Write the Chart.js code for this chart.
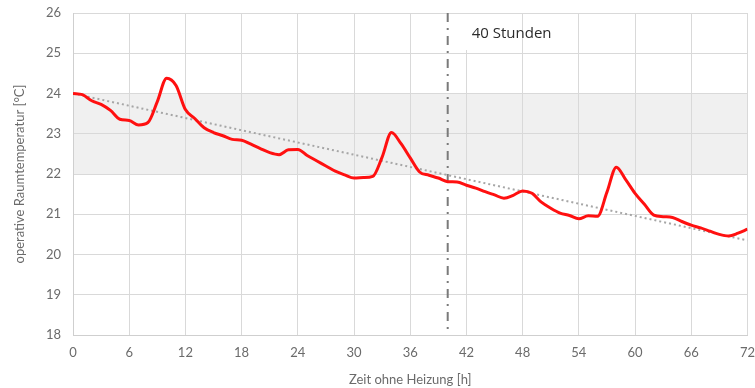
<!DOCTYPE html>
<html lang="de">
<head>
<meta charset="utf-8">
<title>Raumtemperatur ohne Heizung</title>
<script src="https://cdn.jsdelivr.net/npm/chart.js@4/dist/chart.umd.min.js"></script>
<style>
  html, body { margin: 0; padding: 0; background: #ffffff; overflow: hidden; }
  #wrap { width: 755px; height: 388px; position: relative; }
  #chart { display: block; }
</style>
</head>
<body>
<div id="wrap"><canvas id="chart"></canvas></div>
<script>
// Stunden seit Abschalten der Heizung
const hours = [
  0, 1, 2, 3, 4, 5, 6, 7, 8, 9, 10, 11, 12, 13, 14, 15, 16, 17, 18, 19, 20, 21, 22, 23, 24,
  25, 26, 27, 28, 29, 30, 31, 32, 33, 34, 35, 36, 37, 38, 39, 40, 41, 42, 43, 44, 45, 46, 47, 48,
  49, 50, 51, 52, 53, 54, 55, 56, 57, 58, 59, 60, 61, 62, 63, 64, 65, 66, 67, 68, 69, 70, 71, 72
];

// operative Raumtemperatur [°C]
const operativeTemp = [
  24.00, 23.97, 23.82, 23.73, 23.58, 23.36, 23.33, 23.22, 23.28, 23.80, 24.38, 24.20, 23.60,
  23.38, 23.15, 23.03, 22.95, 22.86, 22.84, 22.74, 22.63, 22.53, 22.48, 22.60, 22.61,
  22.46, 22.33, 22.20, 22.07, 21.98, 21.90, 21.91, 21.94, 22.42, 23.03, 22.76, 22.40,
  22.05, 21.97, 21.90, 21.81, 21.80, 21.72, 21.65, 21.56, 21.48, 21.40, 21.47, 21.58,
  21.52, 21.30, 21.15, 21.03, 20.97, 20.89, 20.96, 20.95, 21.55, 22.17, 21.86, 21.52,
  21.25, 20.98, 20.94, 20.92, 20.82, 20.73, 20.66, 20.58, 20.50, 20.46, 20.53, 20.63
];

// linearer Trend (Anfang / Ende)
const trendHours = [0, 72];
const trendTemp = [24.0, 20.35];

// Behaglichkeitsbereich [°C]
const comfortBand = [22, 24];

// Markierung nach 40 Stunden
const markerHour = 40;
const markerLabel = '40 Stunden';

// Achsen
const xTicks = [0, 6, 12, 18, 24, 30, 36, 42, 48, 54, 60, 66, 72];
const yTicks = [18, 19, 20, 21, 22, 23, 24, 25, 26];

const toPoints = (xs, ys) => xs.map((x, i) => ({ x, y: ys[i] }));

// grau hinterlegter Bereich unter dem Raster
const bandPlugin = {
  id: 'comfortBand',
  beforeDraw(chart) {
    const { ctx, chartArea, scales } = chart;
    const yTop = scales.y.getPixelForValue(comfortBand[1]);
    const yBot = scales.y.getPixelForValue(comfortBand[0]);
    ctx.save();
    ctx.fillStyle = '#f0f0f0';
    ctx.fillRect(chartArea.left, yTop, chartArea.right - chartArea.left, yBot - yTop);
    ctx.restore();
  }
};

// Strich-Punkt-Linie mit Beschriftung
const markerPlugin = {
  id: 'marker',
  beforeDatasetsDraw(chart) {
    const { ctx, chartArea, scales } = chart;
    const x = scales.x.getPixelForValue(markerHour);
    ctx.save();
    ctx.fillStyle = '#ffffff';
    ctx.fillRect(x + 10, chartArea.top + 1, 62, 36);
    ctx.strokeStyle = '#7a7a7a';
    ctx.lineWidth = 2;
    ctx.setLineDash([9, 6, 2, 6]);
    ctx.beginPath();
    ctx.moveTo(x, chartArea.top);
    ctx.lineTo(x, chartArea.bottom);
    ctx.stroke();
    ctx.setLineDash([]);
    ctx.fillStyle = '#2b2b2b';
    ctx.font = '15px "Open Sans", sans-serif';
    ctx.textBaseline = 'middle';
    ctx.textAlign = 'left';
    ctx.fillText(markerLabel, x + 24, chartArea.top + 21);
    ctx.restore();
  }
};

const tickFont = { family: 'Lato, "Liberation Sans", sans-serif', size: 13 };
const gridColor = '#d9d9d9';
const hidden = 'rgba(0,0,0,0)';

new Chart(document.getElementById('chart'), {
  type: 'line',
  data: {
    datasets: [
      {
        label: 'operative Raumtemperatur',
        data: toPoints(hours, operativeTemp),
        borderColor: '#ff1010',
        borderWidth: 3,
        pointRadius: 0,
        cubicInterpolationMode: 'monotone',
        fill: false
      },
      {
        label: 'Trend',
        data: toPoints(trendHours, trendTemp),
        borderColor: '#a6a6a6',
        borderWidth: 2,
        borderDash: [2, 3],
        pointRadius: 0,
        tension: 0,
        fill: false
      }
    ]
  },
  options: {
    responsive: true,
    maintainAspectRatio: false,
    animation: false,
    events: [],
    layout: { padding: { top: 13, right: 6, bottom: 0, left: 0 } },
    plugins: {
      legend: { display: false },
      tooltip: { enabled: false }
    },
    scales: {
      x: {
        type: 'linear',
        min: 0,
        max: 72,
        afterBuildTicks: s => { s.ticks = xTicks.map(v => ({ value: v })); },
        afterFit: s => { s.height = 53; },
        grid: { color: gridColor, drawTicks: true, tickLength: 10, tickColor: hidden },
        border: { color: '#cfcfcf', width: 1 },
        ticks: { color: '#6b6b6b', font: tickFont, padding: 0, maxRotation: 0 },
        title: {
          display: true,
          text: 'Zeit ohne Heizung [h]',
          color: '#6b6b6b',
          font: tickFont,
          padding: { top: 0, bottom: 0 }
        }
      },
      y: {
        min: 18,
        max: 26,
        afterBuildTicks: s => { s.ticks = yTicks.map(v => ({ value: v })); },
        afterFit: s => { s.width = 73; },
        grid: { color: gridColor, drawTicks: true, tickLength: 12, tickColor: hidden },
        border: { color: '#cfcfcf', width: 1 },
        ticks: { color: '#6b6b6b', font: tickFont, padding: 0 },
        title: {
          display: true,
          text: 'operative Raumtemperatur [°C]',
          color: '#6b6b6b',
          font: tickFont,
          padding: { top: 12, bottom: 0 }
        }
      }
    }
  },
  plugins: [bandPlugin, markerPlugin]
});
</script>
</body>
</html>
